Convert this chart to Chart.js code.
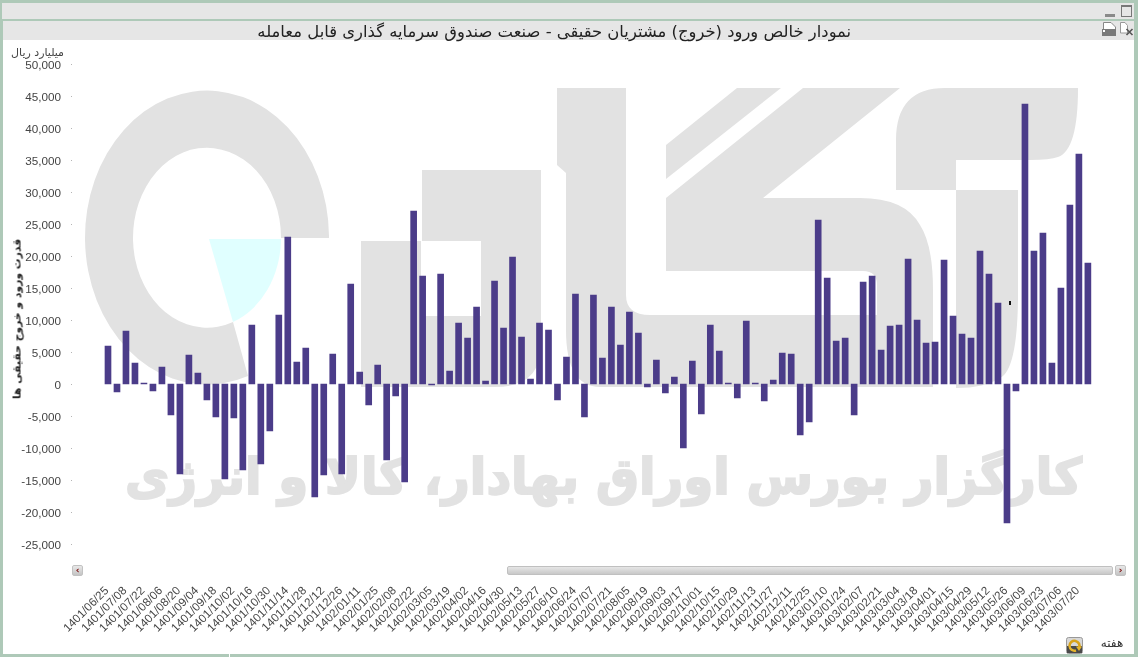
<!DOCTYPE html>
<html lang="fa">
<head>
<meta charset="utf-8">
<script src="https://cdn.jsdelivr.net/npm/chart.js@4"></script>
<style>
html,body{margin:0;padding:0;background:#fff;}
body{width:1138px;height:657px;overflow:hidden;position:relative;font-family:"DejaVu Sans",sans-serif;}
.abs{position:absolute;}
#chartCanvas{position:absolute;left:0;top:0;}
.btn{background:linear-gradient(#e8e8e8,#c4c4c4);border:1px solid #c2c2c2;border-radius:2px;box-sizing:border-box;color:#700;font:bold 9px/9px "DejaVu Sans";text-align:center;}
</style>
</head>
<body>
<!-- window frame -->
<div class="abs" style="left:0;top:0;width:1138px;height:3px;background:#aec9b8"></div>
<div class="abs" style="left:0;top:3px;width:2px;height:651px;background:#aec9b8"></div>
<div class="abs" style="left:2px;top:3px;width:1132px;height:16px;background:#e6e6e6"></div>
<div class="abs" style="left:0;top:19px;width:1138px;height:2px;background:#aec9b8"></div>
<div class="abs" style="left:2px;top:21px;width:1px;height:633px;background:#aec9b8"></div>
<div class="abs" style="left:3px;top:21px;width:1131px;height:19px;background:#e6e6e6"></div>
<div class="abs" style="left:1134px;top:0;width:4px;height:657px;background:#aec9b8"></div>
<div class="abs" style="left:0;top:654px;width:1138px;height:3px;background:#aec9b8"></div>
<div class="abs" style="left:229px;top:654px;width:1px;height:3px;background:#fff"></div>

<!-- watermark -->
<svg class="abs" style="left:0;top:0" width="1138" height="657" viewBox="0 0 1138 657">
  <g fill="#e2e2e2">
    <path d="M329,238 L329,236 A122,147 0 1 0 248,376 L233,322 A74,90 0 1 1 281,238 Z"/>
    <path d="M422,170H541V345Q541,387 495,387H361V241H421V316H481V241H422Z"/>
    <path d="M557,88H626V295Q626,315 650,315H877V285Q877,271 863,271H666V198L803,88H900L763,198H860Q905,198 920,225Q933,245 933,290V387H600Q566,387 566,330V173L557,165Z"/>
    <path d="M666,145L737,88H781L666,179Z"/>
    <path d="M896,190V140Q896,88 945,88H1078Q1078,150 1058,157Q1050,160 1030,160H956V190Z"/>
    <path d="M956,190H1018V300Q1017,370 1000,378Q985,388 956,388Z"/>
    <text id="wmText" x="1082" y="494" text-anchor="start" direction="rtl" font-family="DejaVu Sans" font-weight="bold" font-size="50" stroke="#e2e2e2" stroke-width="2" textLength="957" lengthAdjust="spacingAndGlyphs">کارگزار بورس اوراق بهادار، کالا و انرژی</text>
  </g>
  <path d="M209,239H281A74,90 0 0 1 233,322Z" fill="#e0ffff"/>
</svg>

<canvas id="chartCanvas" width="1138" height="657"></canvas>

<!-- captions -->
<div class="abs" style="left:5px;top:46px;width:59px;text-align:right;font-size:11px;color:#444;white-space:nowrap" dir="rtl"><span style="position:absolute;right:0">میلیارد ریال</span></div>
<div class="abs" style="left:17px;top:319px;width:0;height:0"><div style="position:absolute;transform:translate(-50%,-50%) rotate(-90deg);white-space:nowrap;font-size:10.8px;font-weight:bold;color:#222" dir="rtl">قدرت ورود و خروج حقیقی ها</div></div>
<div class="abs" style="left:1096px;top:636px;width:32px;text-align:center;font-size:12px;color:#333" dir="rtl">هفته</div>
<div class="abs" style="left:1009px;top:301px;width:2px;height:4px;background:#111"></div>

<!-- scrollbar -->
<div class="abs btn" style="left:72px;top:565px;width:11px;height:11px">‹</div>
<div class="abs" style="left:507px;top:566px;width:606px;height:9px;box-sizing:border-box;background:linear-gradient(#e6e6e6,#c8c8c8);border:1px solid #c0c0c0;border-radius:2px"></div>
<div class="abs btn" style="left:1115px;top:565px;width:11px;height:11px">›</div>

<!-- icons -->
<svg class="abs" style="left:1100px;top:2px" width="34" height="36" viewBox="0 0 34 36">
  <rect x="5" y="12" width="10" height="3" fill="#8a8a8a"/>
  <rect x="21.5" y="3.5" width="10" height="11" fill="none" stroke="#777"/>
  <rect x="21" y="3" width="11" height="2" fill="#777"/>
  <path d="M3.5,27V20.5H11L15.5,25V27" fill="#fff" stroke="#888"/>
  <rect x="2" y="27" width="14" height="7" fill="#7a7a7a"/>
  <rect x="3" y="28" width="2" height="2" fill="#fff"/>
  <path d="M20.5,20.5H25L27.5,23.5V31H20.5Z" fill="#fff" stroke="#999"/>
  <path d="M26.5,27L32.5,33M32.5,27L26.5,33" stroke="#555" stroke-width="1.6"/>
</svg>
<svg class="abs" style="left:1066px;top:637px" width="17" height="17" viewBox="0 0 17 17">
  <rect x="0.5" y="0.5" width="16" height="16" rx="2" fill="#d8d8d8" stroke="#999"/>
  <rect x="1" y="9" width="15" height="7" fill="#4a4a4a"/>
  <path d="M3.5,9A5,5 0 1 1 13,11" fill="none" stroke="#d9a31a" stroke-width="2.6"/>
  <path d="M3.5,9A5,5 0 0 0 10,13.5" fill="none" stroke="#e6b52c" stroke-width="2.4"/>
  <path d="M10,9.5H16L13,14Z" fill="#e6b52c"/>
</svg>

<script>
const chartTitle = "نمودار خالص ورود (خروج) مشتریان حقیقی - صنعت صندوق سرمایه گذاری قابل معامله";

const weeks = [
"1401/06/25","1401/07/01","1401/07/08","1401/07/15","1401/07/22","1401/07/29","1401/08/06","1401/08/13","1401/08/20","1401/08/27",
"1401/09/04","1401/09/11","1401/09/18","1401/09/25","1401/10/02","1401/10/09","1401/10/16","1401/10/23","1401/10/30","1401/11/07",
"1401/11/14","1401/11/21","1401/11/28","1401/12/05","1401/12/12","1401/12/19","1401/12/26","1402/01/04","1402/01/11","1402/01/18",
"1402/01/25","1402/02/01","1402/02/08","1402/02/15","1402/02/22","1402/02/29","1402/03/05","1402/03/12","1402/03/19","1402/03/26",
"1402/04/02","1402/04/09","1402/04/16","1402/04/23","1402/04/30","1402/05/06","1402/05/13","1402/05/20","1402/05/27","1402/06/03",
"1402/06/10","1402/06/17","1402/06/24","1402/06/31","1402/07/07","1402/07/14","1402/07/21","1402/07/28","1402/08/05","1402/08/12",
"1402/08/19","1402/08/26","1402/09/03","1402/09/10","1402/09/17","1402/09/24","1402/10/01","1402/10/08","1402/10/15","1402/10/22",
"1402/10/29","1402/11/06","1402/11/13","1402/11/20","1402/11/27","1402/12/04","1402/12/11","1402/12/18","1402/12/25","1403/01/03",
"1403/01/10","1403/01/17","1403/01/24","1403/01/31","1403/02/07","1403/02/14","1403/02/21","1403/02/28","1403/03/04","1403/03/11",
"1403/03/18","1403/03/25","1403/04/01","1403/04/08","1403/04/15","1403/04/22","1403/04/29","1403/05/05","1403/05/12","1403/05/19",
"1403/05/26","1403/06/02","1403/06/09","1403/06/16","1403/06/23","1403/06/30","1403/07/06","1403/07/13","1403/07/20","1403/07/27"];

const netFlow = [
5940,-1250,8280,3280,150,-1090,2660,-4840,-14060,4530,
1720,-2500,-5160,-14840,-5310,-13440,9220,-12500,-7340,10780,
22970,3440,5625,-17660,-14220,4690,-14060,15625,1875,-3280,
2970,-11875,-1875,-15310,27030,16875,-150,17190,2030,9530,
7190,12030,470,16090,8750,19840,7340,780,9530,8440,
-2500,4220,14060,-5160,13900,4060,12030,6090,11250,7970,
-470,3750,-1400,1090,-10000,3590,-4690,9220,5160,150,
-2190,9840,150,-2660,625,4840,4690,-7970,-5940,25625,
16560,6720,7190,-4840,15940,16875,5310,9060,9220,19530,
10000,6410,6560,19375,10625,7810,7190,20780,17190,12660,
-21720,-1090,43750,20780,23590,3280,15000,27970,35940,18900];

const yMin = -25000, yMax = 50000, yStep = 5000;

const tickDots = {
  id: 'tickDots',
  afterDraw(chart) {
    const y = chart.scales.y, c = chart.ctx;
    c.save();
    c.fillStyle = '#b5b5b5';
    y.ticks.forEach((t, i) => { c.fillRect(71, Math.round(y.getPixelForTick(i)), 1, 1); });
    c.restore();
  }
};

Chart.defaults.font.family = '"Liberation Sans", sans-serif';

new Chart(document.getElementById('chartCanvas'), {
  type: 'bar',
  plugins: [tickDots],
  data: {
    labels: weeks,
    datasets: [{ label: 'خالص ورود', data: netFlow, backgroundColor: '#4b3c89', barThickness: 6, borderWidth: 0 }]
  },
  options: {
    responsive: false,
    animation: false,
    devicePixelRatio: 1,
    layout: { padding: { left: 12, right: 41.5, top: 0, bottom: 0 } },
    plugins: {
      legend: { display: false },
      tooltip: { enabled: false },
      title: {
        display: true,
        text: chartTitle,
        color: '#222',
        font: { family: '"DejaVu Sans", sans-serif', size: 16.4, weight: 'normal' },
        padding: { top: 23, bottom: 21.3 }
      }
    },
    scales: {
      x: {
        type: 'category',
        offset: true,
        grid: { display: false, drawTicks: false },
        border: { display: false },
        afterFit(s) { s.height = 113; },
        ticks: {
          autoSkip: false,
          minRotation: 45,
          maxRotation: 45,
          padding: 40,
          labelOffset: -1,
          color: '#444',
          font: { size: 11.7 },
          callback(v, i) { return i % 2 === 0 ? this.getLabelForValue(v) : ''; }
        }
      },
      y: {
        min: yMin,
        max: yMax,
        grid: { display: false, drawTicks: false },
        border: { display: false },
        afterFit(s) { s.width = 91.5; },
        ticks: {
          stepSize: yStep,
          padding: 42.5,
          labelOffset: 1.5,
          color: '#444',
          font: { size: 11.7 },
          callback(v) { return v.toLocaleString('en-US'); }
        }
      }
    }
  }
});
</script>
</body>
</html>
